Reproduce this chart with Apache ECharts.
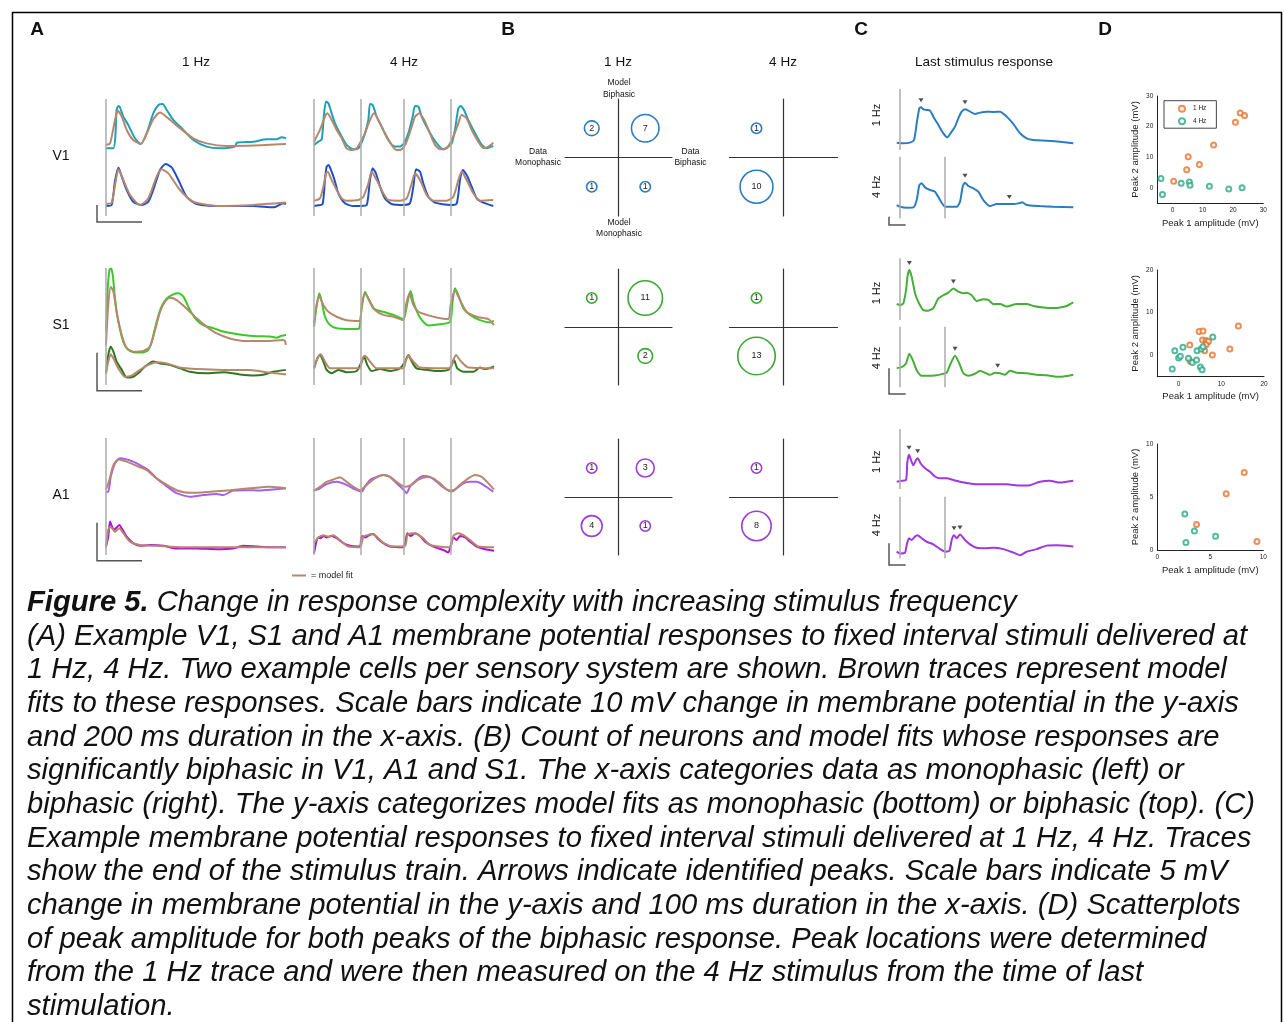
<!DOCTYPE html>
<html><head><meta charset="utf-8">
<script src="https://cdn.jsdelivr.net/npm/echarts@6/dist/echarts.min.js"></script>
<style>html,body{margin:0;padding:0;background:#fff}#c{width:1284px;height:1022px}</style>
</head><body><div id="c"></div>
<script>
// ================= DATA =================
// Panel A: membrane potential traces [time ms, mV]
const A_stim_1Hz = [0];
const A_stim_4Hz = [0, 259, 500, 759];

const A_V1_1Hz_top = [[0,0],[33,0],[42,8],[47,22.5],[55,24.9],[62,24.1],[77,18.6],[99,13.7],[129,5.9],[154,2.5],[181,8.8],[210,20.6],[233,25.5],[252,26.1],[270,22.5],[299,16.7],[344,10.8],[388,4.9],[447,1],[507,0],[573,1],[581,3.3],[655,3.9],[714,5.3],[758,5.3],[781,6.5],[800,5.9]];
const A_V1_1Hz_top_fit = [[0,2],[18,2.9],[40,16.7],[52,22.2],[70,18.6],[92,10.8],[121,4.9],[154,2.5],[188,10.8],[210,17.1],[240,21],[277,17.6],[329,11.8],[388,5.9],[447,2.9],[536,1.4],[655,1.6],[800,2.5]];
const A_V1_1Hz_bot = [[0,0],[25,0.6],[40,14.7],[55,22.7],[70,17.3],[92,9.4],[121,2.5],[158,0.6],[188,2.5],[210,9.4],[240,21.2],[265,24.7],[292,22.7],[322,15.3],[358,5.5],[403,1.2],[507,0],[655,0],[744,-0.8],[788,1.6],[800,1.2]];
const A_V1_1Hz_bot_fit = [[0,1.2],[25,2],[44,15.3],[55,21.6],[77,15.3],[107,6.5],[151,0.6],[188,4.5],[225,17.3],[247,21.6],[277,19.2],[329,9.4],[388,2.5],[507,0],[655,0.6],[800,2]];
const A_V1_4Hz_top = [[0,2],[24,3.9],[43,5.3],[56,20.6],[67,27.5],[80,26.5],[98,20.6],[117,14.7],[144,8.8],[181,2],[219,-0.6],[246,0],[259,2],[283,8.8],[302,16.7],[311,26.1],[326,25.5],[348,18.6],[376,12.7],[413,4.9],[450,1],[478,1],[500,2.9],[524,8.8],[548,18.6],[561,24.9],[580,24.5],[598,18.6],[635,10.8],[682,2.9],[719,-0.6],[746,1],[765,2.9],[783,10.8],[802,23.5],[815,24.9],[833,22.5],[857,16.7],[895,8.8],[932,2],[959,0],[996,1.4]];
const A_V1_4Hz_top_fit = [[0,3.9],[33,10.8],[61,18.6],[74,20.6],[98,16.7],[126,10.8],[154,5.9],[181,0],[209,-1],[237,0],[259,3.9],[283,8.8],[311,16.7],[333,20.6],[367,14.7],[394,8.8],[431,2],[459,-1],[487,-0.6],[511,2.9],[543,12.7],[561,18.6],[585,20.6],[617,15.7],[644,8.8],[672,2],[700,-0.6],[737,0],[774,6.9],[802,14.7],[820,19.6],[848,17.6],[876,10.8],[913,3.9],[941,0],[969,1],[996,3.3]];
const A_V1_4Hz_bot = [[0,0],[24,0.4],[48,1.2],[61,15.3],[70,23.1],[81,24.1],[98,20.2],[117,14.3],[135,7.5],[172,1.6],[219,0],[259,0],[293,0.6],[311,15.3],[326,22.2],[344,19.2],[367,11.4],[394,4.5],[431,1.2],[500,0.6],[533,1.6],[552,11.4],[567,21.6],[589,20.2],[607,13.3],[635,5.5],[672,2],[759,0.6],[793,1.6],[811,15.3],[826,21.2],[848,18.2],[876,11.4],[904,4.5],[941,2],[996,0]];
const A_V1_4Hz_bot_fit = [[0,3.1],[33,4.5],[52,11.4],[67,19.2],[76,20.2],[98,15.3],[126,9.4],[154,4.5],[181,3.1],[246,3.5],[274,5.5],[302,13.3],[320,20.2],[348,15.3],[385,7.5],[413,3.5],[478,3.1],[515,4.5],[543,13.3],[561,19.2],[589,15.3],[626,6.5],[663,3.1],[737,3.1],[774,5.5],[802,15.3],[820,20.2],[848,15.3],[885,7.5],[922,3.1],[996,3.5]];

const A_S1_1Hz_top = [[0,0.9],[6,10.5],[15,17.1],[22,17.5],[30,15.8],[40,9.6],[55,3.5],[77,-1.8],[99,-3.9],[129,-4.6],[166,-4.6],[188,-3.9],[203,-1.8],[225,3.5],[247,7.5],[270,9.6],[299,10.7],[321,11],[344,10.1],[373,6.6],[403,3.9],[432,2.6],[477,1.8],[521,0.9],[566,0.4],[610,0],[669,-0.3],[729,-0.4],[758,-0.7],[781,-0.2],[800,0]];
const A_S1_1Hz_top_fit = [[0,-2.6],[10,7.9],[21,12.7],[33,11.4],[47,6.1],[70,0],[92,-3.5],[121,-4.4],[166,-4.2],[195,-3.1],[218,1.3],[240,6.1],[262,8.8],[284,9.8],[314,9.2],[358,7],[403,4.4],[447,2.2],[492,0.4],[551,-0.9],[625,-1.6],[714,-1.6],[788,-1.3],[795,-1.6],[800,-2.6]];
const A_S1_1Hz_bot = [[0,0],[10,4.8],[21,7],[33,5.7],[47,3.1],[70,0.9],[92,-1.1],[121,-0.9],[151,0.4],[173,1.8],[210,3.1],[240,2.6],[284,2.2],[329,1.3],[373,0.4],[447,0],[521,0.3],[595,-0.3],[655,-0.6],[699,-0.4],[743,0.4],[800,0.9]];
const A_S1_1Hz_bot_fit = [[0,0],[10,3.1],[21,5],[33,3.9],[55,1.3],[84,-0.9],[114,-0.6],[151,0.9],[188,2.2],[225,2.9],[270,2.6],[329,1.5],[403,1.1],[521,0.9],[640,0.9],[714,0.3],[800,-0.3]];
const A_S1_4Hz_top = [[0,2.2],[15,7.9],[30,11],[43,8.8],[61,4.8],[89,2.6],[126,1.8],[181,1.6],[237,1.6],[252,1.8],[265,7],[283,11.4],[302,9.6],[330,7],[385,6.1],[441,5.3],[496,4.2],[506,5.3],[524,9.6],[537,11.6],[552,8.8],[580,5.3],[607,3.5],[635,2.5],[700,2.8],[756,3.5],[770,8.8],[783,12.3],[802,10.5],[830,7],[867,5.3],[922,3.9],[978,3.3],[1000,3.7]];
const A_S1_4Hz_top_fit = [[0,3.1],[15,7.9],[30,10.1],[52,7.9],[80,6.1],[126,4.8],[181,3.9],[252,3.7],[265,7.9],[283,11],[311,8.8],[339,6.6],[385,5.3],[441,4.8],[496,3.9],[511,7.9],[530,11],[552,7.9],[580,6.1],[626,5.3],[682,4.6],[746,4.2],[759,7.9],[783,11.8],[811,9.2],[848,6.1],[904,4.8],[969,4.2],[1000,2.6]];
const A_S1_4Hz_bot = [[0,1.3],[15,3.5],[33,4.8],[52,3.1],[70,0.9],[98,0],[135,0.9],[181,0.3],[237,0.6],[265,3.1],[278,4.4],[296,2.2],[320,0.6],[367,1.1],[422,0.6],[478,1.3],[506,3.1],[524,4.8],[543,3.1],[570,1.3],[626,0.9],[682,0.6],[746,0.9],[765,2.2],[778,3.5],[796,1.3],[830,0.4],[885,0.4],[922,1.5],[950,1.1],[1000,1.8]];
const A_S1_4Hz_bot_fit = [[0,1.3],[19,3.9],[37,5],[61,3.1],[89,1.3],[144,1.3],[252,1.3],[270,3.9],[283,4.6],[311,3.1],[348,1.3],[496,1.3],[511,3.5],[524,4.6],[552,3.1],[589,1.5],[756,1.3],[774,3.5],[789,4.8],[815,3.2],[857,1.5],[1000,1.3]];

const A_A1_1Hz_top = [[0,0],[10,0],[21,3.9],[40,7.5],[62,8.8],[92,8.5],[121,7.9],[151,7],[188,5.7],[225,3.5],[262,1.8],[314,-0.4],[373,-1.3],[432,-0.9],[492,-0.6],[521,-0.9],[566,0.3],[625,0.4],[684,0.3],[743,0.6],[800,0.9]];
const A_A1_1Hz_top_fit = [[0,0.6],[15,3.1],[33,7],[55,8.5],[92,7.9],[136,6.8],[181,5.7],[225,3.5],[270,1.8],[314,0.4],[373,-0.3],[462,0],[551,0.4],[640,0.9],[729,1.3],[800,0.9]];
const A_A1_1Hz_bot = [[0,0.2],[10,2.8],[18,6.8],[27,5.4],[36,4.6],[44,5],[59,5.9],[74,4.6],[92,2.8],[121,1.1],[151,0.4],[195,0.6],[255,0.4],[314,-0.3],[403,-0.3],[492,-0.5],[566,-0.3],[610,0.4],[669,0.2],[729,0],[800,0]];
const A_A1_1Hz_bot_fit = [[0,0],[10,4.6],[21,5.4],[40,4.1],[59,5],[77,3.7],[107,1.5],[151,0.6],[225,0.4],[344,0],[492,0],[640,0],[800,0]];
const A_A1_4Hz_top = [[0,0.3],[33,0.9],[70,2],[126,2.6],[181,1.8],[228,0.6],[265,0],[283,1.3],[311,3.1],[348,3.9],[385,4.4],[422,3.9],[459,2.2],[496,0.6],[515,-0.4],[533,1.3],[570,3.1],[607,4.1],[644,3.9],[682,2.6],[719,1.1],[765,0],[793,0.9],[830,2.2],[867,2.6],[904,2.6],[941,1.8],[996,0]];
const A_A1_4Hz_top_fit = [[0,0.3],[33,1.3],[70,2.6],[107,3.2],[144,3.8],[181,2.6],[219,1.3],[256,0.4],[293,1.8],[339,3.5],[385,4.4],[422,3.9],[469,2.2],[506,1.3],[543,1.8],[580,3.2],[626,3.9],[663,3.5],[700,2.2],[746,0.4],[774,0.4],[811,1.8],[857,3.5],[894,4.4],[932,3.9],[969,2.2],[1000,0.6]];
const A_A1_4Hz_bot = [[0,-1.6],[11,1.1],[24,2.6],[37,2.4],[52,3],[70,2.6],[98,3],[126,2.4],[163,1.1],[200,0.4],[237,0.2],[256,0.2],[265,3],[283,2.6],[307,3.2],[330,3.5],[352,2.4],[385,1.1],[422,0.2],[496,0],[506,1.1],[519,3.7],[537,3],[561,3.7],[589,3],[617,1.5],[663,0.2],[719,-0.7],[746,-1.4],[759,0.4],[774,2.6],[793,1.9],[811,3],[839,2.6],[867,1.5],[904,0.2],[950,-0.5],[1000,-0.9]];
const A_A1_4Hz_bot_fit = [[0,1.1],[24,2.6],[52,3.2],[80,2.8],[107,3.2],[144,1.9],[191,0.2],[256,0],[274,2.8],[296,3.2],[320,3.5],[348,2.8],[385,1.2],[441,0.2],[506,0.4],[519,3.2],[543,3.7],[570,3.5],[607,2.4],[644,0.6],[756,0],[774,3],[802,3.7],[830,3.2],[867,1.9],[913,0.2],[1000,0]];

// Panel B: [data class, model class, neuron count]
const B_V1_1Hz = [['Mono','Bi',2],['Bi','Bi',7],['Mono','Mono',1],['Bi','Mono',1]];
const B_V1_4Hz = [['Mono','Bi',1],['Mono','Mono',10]];
const B_S1_1Hz = [['Mono','Bi',1],['Bi','Bi',11],['Bi','Mono',2]];
const B_S1_4Hz = [['Mono','Bi',1],['Mono','Mono',13]];
const B_A1_1Hz = [['Mono','Bi',1],['Bi','Bi',3],['Mono','Mono',4],['Bi','Mono',1]];
const B_A1_4Hz = [['Mono','Bi',1],['Mono','Mono',8]];

// Panel C: last stimulus responses [time ms, mV], identified peaks
const C_stim_1Hz = [0];
const C_stim_4Hz = [0, 268];
const C_V1_1Hz = [[-20,0.4],[20,0],[60,0.4],[84,2],[100,12],[116,21],[126,21.6],[140,20.4],[160,20],[180,19.6],[200,16],[230,11],[260,6],[284,3.6],[310,7],[330,10],[350,15],[370,19],[390,20.4],[410,19.6],[450,17.6],[480,18.4],[520,19],[560,18.8],[600,19],[640,16],[680,11.6],[720,6],[760,3],[800,2],[880,1.6],[960,1],[1040,0]];
const C_V1_1Hz_peaks = [[126,21.6],[390,20.4]];
const C_V1_4Hz = [[-20,1],[0,0],[40,-0.6],[80,-0.4],[100,4],[116,13],[130,14],[150,11.6],[180,10],[210,9],[240,4],[270,0],[300,0],[340,0],[360,3],[376,12],[390,14.4],[410,12.4],[440,11],[470,9],[500,4],[540,0.4],[580,1.6],[640,1.6],[680,1.6],[710,2],[734,2.6],[760,1],[840,0.4],[920,0],[1040,-0.4]];
const C_V1_4Hz_peaks = [[390,14.4],[656,1.6]];
const C_S1_1Hz = [[-20,0.2],[0,0],[20,0.3],[36,2.9],[46,5.8],[56,6.8],[70,5.5],[90,2.3],[110,0.6],[140,-1],[170,-1.1],[200,-0.6],[230,1.3],[260,1.9],[290,2.4],[320,3.2],[350,2.6],[380,2.3],[400,2.4],[430,1.9],[460,0.8],[500,1.1],[530,1],[560,0.2],[600,0.2],[640,-0.3],[700,0.2],[760,0.2],[800,-0.2],[860,-0.5],[920,-0.6],[960,-0.5],[1000,-0.2],[1040,0.5]];
const C_S1_1Hz_peaks = [[56,6.8],[320,3.2]];
const C_S1_4Hz = [[-20,1.4],[10,1.6],[36,2.3],[56,4.2],[76,3],[100,1],[130,-0.1],[160,-0.1],[220,0],[260,0.3],[280,0.5],[304,2.3],[330,3.8],[356,2.3],[380,0.4],[410,-0.1],[450,0.3],[480,0.9],[510,0.5],[540,0.1],[570,0.5],[600,0.4],[630,0.1],[660,0.9],[700,0.5],[760,0.4],[820,0.1],[880,0],[960,-0.3],[1040,0.1]];
const C_S1_4Hz_peaks = [[330,3.8],[586,0.5]];
const C_A1_1Hz = [[-20,0],[10,0.2],[36,0.4],[44,4.6],[54,6.2],[66,5],[80,3.8],[96,5],[106,5.4],[124,4.2],[150,3.1],[180,2.3],[210,1.2],[240,0.8],[280,0.8],[320,0.4],[360,0],[420,-0.4],[480,-0.6],[560,-0.6],[640,-0.6],[720,-0.9],[780,-0.8],[840,0],[900,0.2],[960,-0.2],[1000,0],[1040,0.2]];
const C_A1_1Hz_peaks = [[54,6.2],[106,5.4]];
const C_A1_4Hz = [[-20,0],[0,-0.4],[30,-0.2],[40,1.5],[54,3.1],[70,2.7],[90,3.5],[104,3.8],[130,3.1],[160,2.3],[200,1.7],[240,0.6],[270,0],[296,0.2],[310,2.7],[324,3.8],[340,3.1],[360,4],[390,2.7],[420,1.7],[460,0.9],[510,0.8],[560,0.9],[620,0.6],[680,-0.2],[720,-0.8],[760,0],[820,0.6],[880,1.4],[940,1.5],[1000,1.4],[1040,1.2]];
const C_A1_4Hz_peaks = [[324,3.8],[360,4.0]];

// Panel D: [peak 1 amplitude, peak 2 amplitude] (mV)
const D_V1_1Hz = [[0.4,2.1],[4.7,5.9],[5.2,10.1],[8.9,7.6],[13.6,14.0],[20.8,21.4],[22.4,24.4],[23.8,23.6]];
const D_V1_4Hz = [[-3.8,3.0],[-3.3,-2.2],[2.9,1.5],[5.6,1.9],[5.8,0.8],[12.2,0.5],[18.6,-0.4],[23,0]];
const D_S1_1Hz = [[2.6,2.4],[2.7,-1.4],[4.8,5.6],[5.7,5.7],[5.6,3.6],[6.4,3.5],[6.7,3.1],[7.0,3.3],[6.1,1.1],[7.9,0.1],[12.0,1.5],[14.0,6.9],[6.4,2.5]];
const D_S1_4Hz = [[-1.5,-3.2],[-0.9,1.1],[0,-0.6],[0.4,-0.2],[1.0,1.9],[2.3,-0.7],[3.2,-1.7],[4.3,1.1],[4.2,-1.1],[5.1,-2.7],[5.5,-3.4],[5.3,1.5],[8.0,4.3],[5.7,2.0]];
const D_A1_1Hz = [[3.7,2.4],[6.5,5.3],[8.2,7.3],[9.4,0.8]];
const D_A1_4Hz = [[2.6,3.4],[2.7,0.7],[3.5,1.8],[5.5,1.3]];

const CAPTION_LINES = [
  "(A) Example V1, S1 and A1 membrane potential responses to fixed interval stimuli delivered at",
  "1 Hz, 4 Hz. Two example cells per sensory system are shown. Brown traces represent model",
  "fits to these responses. Scale bars indicate 10 mV change in membrane potential in the y-axis",
  "and 200 ms duration in the x-axis. (B) Count of neurons and model fits whose responses are",
  "significantly biphasic in V1, A1 and S1. The x-axis categories data as monophasic (left) or",
  "biphasic (right). The y-axis categorizes model fits as monophasic (bottom) or biphasic (top). (C)",
  "Example membrane potential responses to fixed interval stimuli delivered at 1 Hz, 4 Hz. Traces",
  "show the end of the stimulus train. Arrows indicate identified peaks. Scale bars indicate 5 mV",
  "change in membrane potential in the y-axis and 100 ms duration in the x-axis. (D) Scatterplots",
  "of peak amplitude for both peaks of the biphasic response. Peak locations were determined",
  "from the 1 Hz trace and were then measured on the 4 Hz stimulus from the time of last",
  "stimulation."
];

// ================= BUILD =================
const FONT = '"Liberation Sans", Arial, Helvetica, sans-serif';
const BROWN = '#b5886c';
const STIM = '#ababab';
const BAR = '#555555';
const CAP_SIZE = 29.2;
const grid = [], xAxis = [], yAxis = [], series = [], graphic = [];

function addGrid(left, top, width, height) {
  grid.push({left, top, width, height, containLabel: false, outerBoundsMode: 'none'});
  return grid.length - 1;
}
function addX(gi, min, max) { xAxis.push({type: 'value', gridIndex: gi, min, max, show: false}); return xAxis.length - 1; }
function addY(gi, min, max) { yAxis.push({type: 'value', gridIndex: gi, min, max, show: false}); return yAxis.length - 1; }
function yRange(top, height, basePx, pxPerMv) { return [-(top + height - basePx) / pxPerMv, (basePx - top) / pxPerMv]; }
function addLine(xi, yi, data, color, name, z) {
  series.push({type: 'line', name, xAxisIndex: xi, yAxisIndex: yi, data, symbol: 'none', showSymbol: false,
    smooth: 0.22, lineStyle: {color, width: 2}, itemStyle: {color}, z, silent: true, clip: false});
}
function addStim(xi, yi, times) {
  series.push({type: 'line', xAxisIndex: xi, yAxisIndex: yi, data: [[times[0], 0]], symbol: 'none',
    lineStyle: {opacity: 0}, z: 1, silent: true,
    markLine: {silent: true, symbol: ['none', 'none'], label: {show: false},
      lineStyle: {color: STIM, width: 1.5, type: 'solid'}, data: times.map(t => ({xAxis: t}))}});
}
function seg(points, color, w) {
  graphic.push({type: 'polyline', shape: {points}, style: {stroke: color, lineWidth: w, fill: null}, z: 10});
}
function txt(x, y, text, size, o) {
  o = o || {};
  graphic.push({type: 'text', x, y, rotation: o.rot || 0, z: 10,
    style: {text, fill: o.color || '#111', fontSize: size, fontFamily: FONT, fontWeight: o.weight || 'normal',
      fontStyle: o.style || 'normal', align: o.align || 'center', verticalAlign: 'middle', lineHeight: o.lh || size * 1.2, rich: o.rich}});
}

// ---- Panel A ----
const A_cols = [{left: 106, width: 180, tmax: 800, stim: A_stim_1Hz}, {left: 314, width: 180, tmax: 1000, stim: A_stim_4Hz}];
const A_rows = [
  {top: 99, h: 117, baseTop: 148.3, baseBot: 206, ppm: 1.7, cTop: '#1fa0b8', cBot: '#2050c8', barBottom: 222,
   cells: [[A_V1_1Hz_top, A_V1_1Hz_top_fit, A_V1_1Hz_bot, A_V1_1Hz_bot_fit], [A_V1_4Hz_top, A_V1_4Hz_top_fit, A_V1_4Hz_bot, A_V1_4Hz_bot_fit]]},
  {top: 268, h: 117, baseTop: 335, baseBot: 373.3, ppm: 3.8, cTop: '#3cc828', cBot: '#2d781e', barBottom: 390.7,
   cells: [[A_S1_1Hz_top, A_S1_1Hz_top_fit, A_S1_1Hz_bot, A_S1_1Hz_bot_fit], [A_S1_4Hz_top, A_S1_4Hz_top_fit, A_S1_4Hz_bot, A_S1_4Hz_bot_fit]]},
  {top: 438, h: 117, baseTop: 491.7, baseBot: 547.3, ppm: 3.8, cTop: '#a55feb', cBot: '#af0fd7', barBottom: 560.7,
   cells: [[A_A1_1Hz_top, A_A1_1Hz_top_fit, A_A1_1Hz_bot, A_A1_1Hz_bot_fit], [A_A1_4Hz_top, A_A1_4Hz_top_fit, A_A1_4Hz_bot, A_A1_4Hz_bot_fit]]}
];
A_rows.forEach(r => {
  A_cols.forEach((c, ci) => {
    const gi = addGrid(c.left, r.top, c.width, r.h);
    const xi = addX(gi, 0, c.tmax);
    const rt = yRange(r.top, r.h, r.baseTop, r.ppm), rb = yRange(r.top, r.h, r.baseBot, r.ppm);
    const yt = addY(gi, rt[0], rt[1]), yb = addY(gi, rb[0], rb[1]);
    addStim(xi, yt, c.stim);
    const d = r.cells[ci];
    addLine(xi, yt, d[0], r.cTop, 'data', 2);
    addLine(xi, yt, d[1], BROWN, 'model fit', 3);
    addLine(xi, yb, d[2], r.cBot, 'data', 2);
    addLine(xi, yb, d[3], BROWN, 'model fit', 3);
  });
  const bx = 97, bb = r.barBottom;
  seg([[bx, bb - 10 * r.ppm], [bx, bb], [bx + 200 * 180 / 800, bb]], BAR, 1.5);
});

// ---- Panel B ----
const B_cols = [{left: 565, width: 107}, {left: 729.5, width: 108}];
const B_rows = [
  {top: 99, h: 117, color: '#2e7bbf', cells: [B_V1_1Hz, B_V1_4Hz]},
  {top: 269, h: 116, color: '#3aa832', cells: [B_S1_1Hz, B_S1_4Hz]},
  {top: 439, h: 116, color: '#9b3fd6', cells: [B_A1_1Hz, B_A1_4Hz]}
];
const bAx = {type: 'value', min: -1, max: 1, axisLine: {show: true, onZero: true, lineStyle: {color: '#333', width: 1.2}},
  axisTick: {show: false}, axisLabel: {show: false}, splitLine: {show: false}};
B_rows.forEach(r => {
  B_cols.forEach((c, ci) => {
    const gi = addGrid(c.left, r.top, c.width, r.h);
    xAxis.push(Object.assign({gridIndex: gi}, bAx)); const xi = xAxis.length - 1;
    yAxis.push(Object.assign({gridIndex: gi}, bAx)); const yi = yAxis.length - 1;
    series.push({type: 'scatter', xAxisIndex: xi, yAxisIndex: yi, silent: true, z: 5,
      data: r.cells[ci].map(d => [d[0] === 'Bi' ? 0.5 : -0.5, d[1] === 'Bi' ? 0.5 : -0.5, d[2]]),
      symbol: 'circle', symbolSize: v => 10.4 * Math.sqrt(v[2]),
      itemStyle: {color: '#fff', borderColor: r.color, borderWidth: 1.6, opacity: 1},
      label: {show: true, position: 'inside', formatter: p => String(p.value[2]), fontSize: 9, color: '#222', fontFamily: FONT}});
  });
});
txt(619, 83, 'Model', 8.5); txt(619, 94.5, 'Biphasic', 8.5);
txt(538, 151.5, 'Data', 8.5); txt(538, 162.5, 'Monophasic', 8.5);
txt(690.5, 151.5, 'Data', 8.5); txt(690.5, 162.5, 'Biphasic', 8.5);
txt(619, 222.5, 'Model', 8.5); txt(619, 234, 'Monophasic', 8.5);

// ---- Panel C ----
const C_left = 896.7, C_width = 176.6, C_tmin = -20, C_tmax = 1040;
const C_rows = [
  {ppm: 1.667, color: '#2a7dc2', barBottom: 225,
   tr: [{top: 89, h: 61, base: 143.3, data: C_V1_1Hz, peaks: C_V1_1Hz_peaks, stim: C_stim_1Hz, label: '1 Hz', ly: 115},
        {top: 156.7, h: 61.6, base: 206.7, data: C_V1_4Hz, peaks: C_V1_4Hz_peaks, stim: C_stim_4Hz, label: '4 Hz', ly: 186.7}]},
  {ppm: 5.13, color: '#46af37', barBottom: 394,
   tr: [{top: 258.3, h: 61.7, base: 305, data: C_S1_1Hz, peaks: C_S1_1Hz_peaks, stim: C_stim_1Hz, label: '1 Hz', ly: 293},
        {top: 326.7, h: 60.6, base: 375.3, data: C_S1_4Hz, peaks: C_S1_4Hz_peaks, stim: C_stim_4Hz, label: '4 Hz', ly: 358}]},
  {ppm: 4.33, color: '#a037e1', barBottom: 565,
   tr: [{top: 429, h: 60, base: 481.7, data: C_A1_1Hz, peaks: C_A1_1Hz_peaks, stim: C_stim_1Hz, label: '1 Hz', ly: 461.7},
        {top: 496.7, h: 61.6, base: 551.7, data: C_A1_4Hz, peaks: C_A1_4Hz_peaks, stim: C_stim_4Hz, label: '4 Hz', ly: 525}]}
];
C_rows.forEach(r => {
  r.tr.forEach(t => {
    const gi = addGrid(C_left, t.top, C_width, t.h);
    const xi = addX(gi, C_tmin, C_tmax);
    const yr = yRange(t.top, t.h, t.base, r.ppm);
    const yi = addY(gi, yr[0], yr[1]);
    addStim(xi, yi, t.stim);
    addLine(xi, yi, t.data, r.color, 'trace', 2);
    series.push({type: 'scatter', xAxisIndex: xi, yAxisIndex: yi, data: t.peaks, symbol: 'triangle', symbolRotate: 180,
      symbolSize: [5, 4], symbolOffset: [0, -7], itemStyle: {color: '#222'}, silent: true, z: 6});
    txt(876.7, t.ly, t.label, 11, {rot: Math.PI / 2});
  });
  seg([[889, r.barBottom - 5 * r.ppm], [889, r.barBottom], [889 + 100 * C_width / (C_tmax - C_tmin), r.barBottom]], BAR, 1.5);
});

// ---- Panel D ----
const ORANGE = '#e8732a', TEAL = '#2aa886';
function scatterPanel(left, top, w, h, min, max, interval, step, d1, d4) {
  const gi = addGrid(left, top, w, h);
  const lab = {fontSize: 6.5, color: '#222', fontFamily: FONT, margin: 4, formatter: v => (v % step === 0 ? String(v) : '')};
  const common = {type: 'value', gridIndex: gi, min, max, interval,
    axisLine: {show: true, onZero: false, lineStyle: {color: '#222', width: 1}}, axisTick: {show: false},
    splitLine: {show: false}, axisLabel: lab, nameLocation: 'middle',
    nameTextStyle: {fontSize: 9.5, color: '#222', fontFamily: FONT}};
  xAxis.push(Object.assign({}, common, {name: 'Peak 1 amplitude (mV)', nameGap: 15})); const xi = xAxis.length - 1;
  yAxis.push(Object.assign({}, common, {name: 'Peak 2 amplitude (mV)', nameGap: 17})); const yi = yAxis.length - 1;
  const sc = (name, data, color) => series.push({type: 'scatter', name, xAxisIndex: xi, yAxisIndex: yi, data,
    symbol: 'emptyCircle', symbolSize: 5, itemStyle: {color, borderColor: color, borderWidth: 1.3}, silent: true, z: 5});
  sc('1 Hz', d1, ORANGE);
  sc('4 Hz', d4, TEAL);
}
scatterPanel(1157.3, 96, 106, 107, -5, 30, 5, 10, D_V1_1Hz, D_V1_4Hz);
scatterPanel(1157.3, 270, 106.7, 106.7, -5, 20, 5, 10, D_S1_1Hz, D_S1_4Hz);
scatterPanel(1157.3, 444, 106, 106, 0, 10, 5, 5, D_A1_1Hz, D_A1_4Hz);

// ---- Titles, labels ----
txt(37, 30, 'A', 19, {weight: 'bold'});
txt(508, 30, 'B', 19, {weight: 'bold'});
txt(861, 30, 'C', 19, {weight: 'bold'});
txt(1105, 30, 'D', 19, {weight: 'bold'});
txt(196, 62, '1 Hz', 13.5); txt(404, 62, '4 Hz', 13.5);
txt(618, 62, '1 Hz', 13.5); txt(783, 62, '4 Hz', 13.5);
txt(984, 62, 'Last stimulus response', 13.5);
txt(61, 156, 'V1', 14); txt(61, 325, 'S1', 14); txt(61, 495, 'A1', 14);

// Frame
graphic.push({type: 'rect', shape: {x: 12.5, y: 12.5, width: 1269, height: 1040}, style: {fill: null, stroke: '#000', lineWidth: 1.5}, z: 10});

// Caption
txt(27, 603, '{b|Figure 5.} Change in response complexity with increasing stimulus frequency', CAP_SIZE,
  {align: 'left', style: 'italic', rich: {b: {fontWeight: 'bold', fontStyle: 'italic', fontSize: CAP_SIZE, fontFamily: FONT, fill: '#111'}}});
CAPTION_LINES.forEach((l, i) => txt(27, 603 + 33.67 * (i + 1), l, CAP_SIZE, {align: 'left', style: 'italic'}));

const option = {
  animation: false, backgroundColor: '#fff',
  grid, xAxis, yAxis, series, graphic,
  legend: [
    {data: ['1 Hz', '4 Hz'], orient: 'vertical', left: 1164, top: 100.7, itemWidth: 6, itemHeight: 6, itemGap: 4.5,
     padding: [4, 10, 3, 14], borderColor: '#444', borderWidth: 1, selectedMode: false,
     textStyle: {fontSize: 6.5, color: '#222', fontFamily: FONT, padding: [0, 0, 0, 3]}},
    {data: [{name: 'model fit', icon: 'rect'}], left: 292, top: 571, itemWidth: 14, itemHeight: 2, selectedMode: false,
     formatter: '= model fit', padding: 0, textStyle: {fontSize: 9, color: '#222', fontFamily: FONT}}
  ]
};
const chart = echarts.init(document.getElementById('c'), null, {renderer: 'canvas'});
chart.setOption(option);
</script></body></html>
